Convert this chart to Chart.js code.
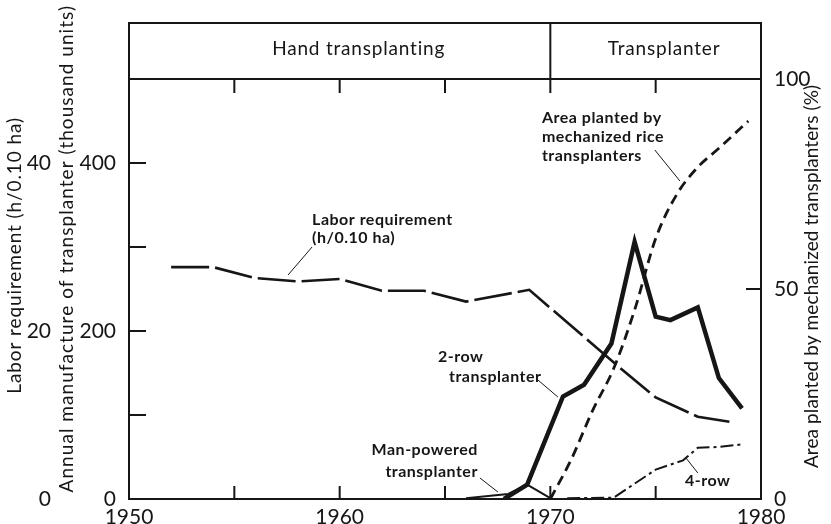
<!DOCTYPE html>
<html>
<head>
<meta charset="utf-8">
<title>Rice transplanting: labor and transplanters</title>
<script src="https://cdn.jsdelivr.net/npm/chart.js@4.4.0/dist/chart.umd.min.js"></script>
<style>
  html, body { margin: 0; padding: 0; background: #fff; }
  #wrap { width: 831px; height: 524px; }
</style>
</head>
<body>
<div id="wrap"><canvas id="chart"></canvas></div>
<script>
// labor requirement (h/0.10 ha)
const laborYears = [1952, 1954, 1956, 1958, 1960, 1962, 1964, 1966, 1969, 1973.5, 1975, 1977, 1978.5];
const laborHours = [27.6, 27.6, 26.3, 25.9, 26.2, 24.8, 24.8, 23.5, 24.9, 15.2, 12.1, 9.8, 9.2];

// annual manufacture (thousand units)
const twoRowYears = [1967.8, 1968.9, 1970.6, 1971.6, 1972.9, 1974.0, 1975.0, 1975.7, 1977.0, 1978.0, 1979.1];
const twoRowUnits = [0, 17, 122, 136, 185, 306, 217, 213, 228, 144, 108];

const manYears = [1966, 1968, 1968.9, 1970];
const manUnits = [1, 6, 17, 1];

const fourRowYears = [1970.8, 1973.0, 1975.0, 1976.3, 1977.0, 1978.0, 1979.1];
const fourRowUnits = [1, 1.5, 35, 46, 61, 62, 65];

// area planted by mechanized transplanters (%)
const areaYears = [1970, 1971, 1972, 1973, 1974, 1975, 1976, 1977, 1978, 1979.4];
const areaPct = [0, 9.5, 21, 31, 45, 62, 72.5, 79, 83.5, 90];

// tick labels
const yearLabels = [1950, 1960, 1970, 1980];
const unitLabels = [0, 200, 400];
const laborLabels = [0, 20, 40];
const pctLabels = [0, 50, 100];

const ink = '#161616';
const tickFont = { family: 'Lato', size: 21 };

function pts(xs, ys) {
    return xs.map((x, i) => ({ x: x, y: ys[i] }));
}

// callout texts, placed in data units (year, thousand units)
const notes = [
    { text: 'Labor requirement', x: 1958.69, y: 332, align: 'left' },
    { text: '(h/0.10 ha)', x: 1958.69, y: 311, align: 'left' },
    { text: 'Area planted by', x: 1969.6, y: 453.6, align: 'left' },
    { text: 'mechanized rice', x: 1969.6, y: 431, align: 'left' },
    { text: 'transplanters', x: 1969.6, y: 408.3, align: 'left' },
    { text: '2-row', x: 1964.67, y: 169, align: 'left' },
    { text: 'transplanter', x: 1965.19, y: 145.2, align: 'left' },
    { text: 'Man-powered', x: 1966.56, y: 58.3, align: 'right' },
    { text: 'transplanter', x: 1966.56, y: 32.1, align: 'right' },
    { text: '4-row', x: 1976.39, y: 21.4, align: 'left' }
];
const leaders = [
    [1958.69, 300, 1957.55, 266.7],
    [1974.96, 415.5, 1976.15, 378.6],
    [1969.41, 141.7, 1970.36, 121.4],
    [1966.66, 25, 1967.51, 8.3],
    [1977.0, 31, 1976.44, 48.8]
];

const framePlugin = {
    id: 'frame',
    afterDatasetsDraw(chart) {
        const { ctx, chartArea: a, scales } = chart;
        const sx = scales.x, sy = scales.yMan, sp = scales.yPct;
        const headTop = a.top - 56;

        ctx.save();
        ctx.strokeStyle = ink;
        ctx.fillStyle = ink;
        ctx.lineWidth = 2;
        ctx.lineCap = 'square';

        // plot box plus header band
        ctx.strokeRect(a.left, headTop, a.right - a.left, a.bottom - headTop);
        ctx.beginPath();
        ctx.moveTo(a.left, a.top);
        ctx.lineTo(a.right, a.top);
        const div = sx.getPixelForValue(1970);
        ctx.moveTo(div, headTop);
        ctx.lineTo(div, a.top);
        ctx.stroke();

        // inward ticks
        ctx.beginPath();
        for (let yr = 1955; yr < 1980; yr += 5) {
            const px = sx.getPixelForValue(yr);
            ctx.moveTo(px, a.top); ctx.lineTo(px, a.top + 13);
            ctx.moveTo(px, a.bottom); ctx.lineTo(px, a.bottom - 12);
        }
        for (let v = 100; v < 500; v += 100) {
            const py = sy.getPixelForValue(v);
            ctx.moveTo(a.left, py); ctx.lineTo(a.left + 16, py);
        }
        const p50 = sp.getPixelForValue(50);
        ctx.moveTo(a.right, p50); ctx.lineTo(a.right - 14, p50);
        ctx.stroke();

        // header text
        ctx.font = '19px Lato';
        ctx.letterSpacing = '0.8px';
        ctx.textAlign = 'center';
        ctx.textBaseline = 'middle';
        ctx.fillText('Hand transplanting', sx.getPixelForValue(1960.9), headTop + 26);
        ctx.fillText('Transplanter', sx.getPixelForValue(1975.4), headTop + 26);

        // callouts
        ctx.font = 'bold 16px Lato';
        ctx.letterSpacing = '0.5px';
        notes.forEach(n => {
            ctx.textAlign = n.align;
            ctx.fillText(n.text, sx.getPixelForValue(n.x), sy.getPixelForValue(n.y));
        });
        ctx.lineWidth = 1;
        ctx.lineCap = 'butt';
        ctx.beginPath();
        leaders.forEach(l => {
            ctx.moveTo(sx.getPixelForValue(l[0]), sy.getPixelForValue(l[1]));
            ctx.lineTo(sx.getPixelForValue(l[2]), sy.getPixelForValue(l[3]));
        });
        ctx.stroke();

        // axis titles
        ctx.font = '19px Lato';
        ctx.textAlign = 'center';
        function vtext(txt, x, y, spacing) {
            ctx.save();
            ctx.letterSpacing = spacing;
            ctx.translate(x, y);
            ctx.rotate(-Math.PI / 2);
            ctx.fillText(txt, 0, 0);
            ctx.restore();
        }
        vtext('Labor requirement (h/0.10 ha)', 15, sy.getPixelForValue(290), '0.9px');
        vtext('Annual manufacture of transplanter (thousand units)', 67, sy.getPixelForValue(298), '1.05px');
        vtext('Area planted by mechanized transplanters (%)', 812, sp.getPixelForValue(53), '0.1px');
        ctx.restore();
    }
};

document.addEventListener('DOMContentLoaded', function () {
    const ctx = document.getElementById('chart').getContext('2d');

    new Chart(ctx, {
        type: 'line',
        data: {
            datasets: [
                {
                    label: 'Labor requirement',
                    data: pts(laborYears, laborHours),
                    yAxisID: 'yLabor',
                    borderColor: ink,
                    borderWidth: 2.6,
                    borderDash: [38, 6]
                },
                {
                    label: '2-row transplanter',
                    data: pts(twoRowYears, twoRowUnits),
                    yAxisID: 'yMan',
                    borderColor: ink,
                    borderWidth: 4.5
                },
                {
                    label: 'Man-powered transplanter',
                    data: pts(manYears, manUnits),
                    yAxisID: 'yMan',
                    borderColor: ink,
                    borderWidth: 2
                },
                {
                    label: '4-row',
                    data: pts(fourRowYears, fourRowUnits),
                    yAxisID: 'yMan',
                    borderColor: ink,
                    borderWidth: 2,
                    borderDash: [13, 4, 3, 4]
                },
                {
                    label: 'Area planted by mechanized rice transplanters',
                    data: pts(areaYears, areaPct),
                    yAxisID: 'yPct',
                    borderColor: ink,
                    borderWidth: 2.8,
                    borderDash: [10, 6],
                    cubicInterpolationMode: 'monotone'
                }
            ]
        },
        options: {
            responsive: true,
            maintainAspectRatio: false,
            animation: false,
            layout: { padding: { top: 79, left: 0, right: 0, bottom: 0 } },
            elements: { point: { radius: 0 }, line: { fill: false } },
            plugins: { legend: { display: false }, tooltip: { enabled: false } },
            scales: {
                x: {
                    type: 'linear',
                    min: 1950,
                    max: 1980,
                    grid: { display: false },
                    border: { display: false },
                    afterFit: s => { s.height = 25; },
                    ticks: {
                        stepSize: 5,
                        autoSkip: false,
                        maxRotation: 0,
                        padding: -2,
                        color: ink,
                        font: tickFont,
                        callback: v => yearLabels.includes(v) ? String(v) : ''
                    }
                },
                yLabor: {
                    position: 'left',
                    weight: 1,
                    min: 0,
                    max: 50,
                    grid: { display: false },
                    border: { display: false },
                    afterFit: s => { s.width = 59; },
                    ticks: {
                        stepSize: 10,
                        padding: 0,
                        color: ink,
                        font: tickFont,
                        callback: v => laborLabels.includes(v) ? String(v) : ''
                    }
                },
                yMan: {
                    position: 'left',
                    weight: 0,
                    min: 0,
                    max: 500,
                    grid: { display: false },
                    border: { display: false },
                    afterFit: s => { s.width = 70; },
                    ticks: {
                        stepSize: 100,
                        padding: 5,
                        color: ink,
                        font: tickFont,
                        callback: v => unitLabels.includes(v) ? String(v) : ''
                    }
                },
                yPct: {
                    position: 'right',
                    min: 0,
                    max: 100,
                    grid: { display: false },
                    border: { display: false },
                    afterFit: s => { s.width = 70; },
                    ticks: {
                        stepSize: 50,
                        padding: 5,
                        color: ink,
                        font: tickFont,
                        callback: v => pctLabels.includes(v) ? String(v) : ''
                    }
                }
            }
        },
        plugins: [framePlugin]
    });
});
</script>
</body>
</html>
